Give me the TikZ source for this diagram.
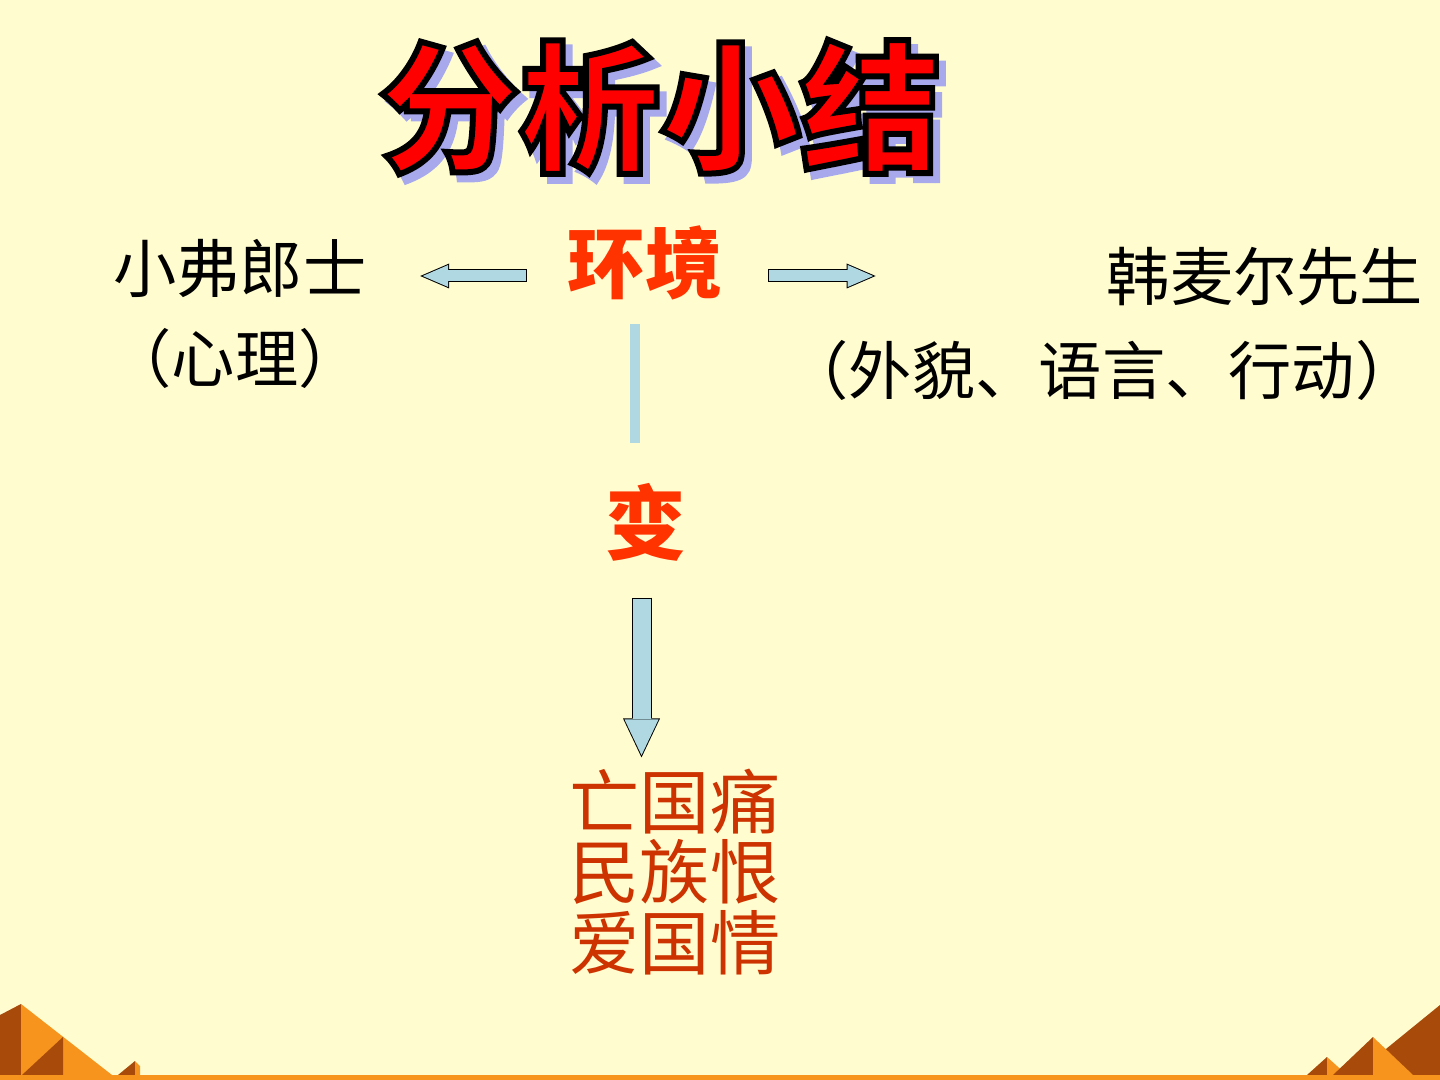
\documentclass[tikz,border=0pt]{standalone}
\usepackage{fontspec}
\setmainfont{Noto Sans CJK SC}
\usepackage{tikz}
\usetikzlibrary{arrows.meta}
\definecolor{paper}{RGB}{255,253,208}
\definecolor{envred}{RGB}{255,51,0}
\definecolor{feelred}{RGB}{204,51,0}
\definecolor{pale}{RGB}{176,216,226}
\definecolor{shade}{RGB}{168,168,236}
\definecolor{sand}{RGB}{247,148,29}
\definecolor{rust}{RGB}{168,74,10}
% outlined glyphs: fill in the text colour, stroke in black
\newcommand\ringtext[2]{\special{pdf:literal direct q 2 Tr 1.7 w #1 RG}#2\special{pdf:literal direct Q}}

\begin{document}
\begin{tikzpicture}[
    person/.style={font=\fontsize{18}{22}\selectfont, inner sep=0pt},
    keyword/.style={font=\fontsize{22}{26}\selectfont\bfseries, text=envred, inner sep=0pt},
    feeling/.style={font=\fontsize{20}{20}\selectfont, text=feelred, align=center, inner sep=0pt},
    headline/.style={font=\fontsize{40}{44}\selectfont\bfseries, inner sep=0pt},
    stem/.style={draw=pale, line width=0.10cm, shorten <=0.235cm, shorten >=0.39cm},
    sidearr/.style 2 args={draw=black, line width=0.13cm, shorten <=#1, shorten >=#2,
        -{Triangle[width=0.25cm, length=0.29cm, line width=0pt]},
        postaction={draw=pale, line width=0.11cm, shorten <=#1+0.01cm, shorten >=#2+0.025cm,
        -{Triangle[width=0.22cm, length=0.255cm, line width=0pt]}}},
    downarr/.style 2 args={draw=black, line width=0.20cm, shorten <=#1, shorten >=#2,
        -{Triangle[width=0.37cm, length=0.39cm, line width=0pt]},
        postaction={draw=pale, line width=0.18cm, shorten <=#1+0.01cm, shorten >=#2+0.023cm,
        -{Triangle[width=0.34cm, length=0.357cm, line width=0pt]}}}
]
% page
\fill[paper] (0,0) rectangle (14.4,-10.8);
\useasboundingbox (0,0) rectangle (14.4,-10.8);

% pyramids along the bottom edge
\fill[rust] (0,-10.15) -- (0.21,-10.04) -- (0.21,-10.75) -- (0,-10.75) -- cycle;
\fill[sand] (0.21,-10.04) -- (1.12,-10.75) -- (0.21,-10.75) -- cycle;
\fill[rust] (0.22,-10.75) -- (0.63,-10.37) -- (0.63,-10.75) -- cycle;
\fill[rust] (1.18,-10.75) -- (1.35,-10.61) -- (1.35,-10.75) -- cycle;
\fill[sand] (1.35,-10.61) -- (1.40,-10.66) -- (1.40,-10.75) -- (1.35,-10.75) -- cycle;
\fill[rust] (14.40,-10.05) -- (13.54,-10.75) -- (14.40,-10.75) -- cycle;
\fill[rust] (13.07,-10.75) -- (13.27,-10.57) -- (13.27,-10.75) -- cycle;
\fill[sand] (13.27,-10.57) -- (13.47,-10.75) -- (13.27,-10.75) -- cycle;
\fill[rust] (13.33,-10.75) -- (13.73,-10.37) -- (13.73,-10.75) -- cycle;
\fill[sand] (13.73,-10.37) -- (14.13,-10.75) -- (13.73,-10.75) -- cycle;
\fill[sand] (0,-10.75) rectangle (14.4,-10.8);

% title with shadow and outline
\coordinate (titlepos) at (6.60,-1.07);
\node[headline, text=shade, xshift=0.07cm, yshift=-0.07cm] (shadow) at (titlepos) {\ringtext{0.66 0.66 0.925}{分析小结}};
\node[headline, text=red] (title) at (titlepos) {\ringtext{0 0 0}{分析小结}};

% texts
\node[person] (frank) at (2.40,-2.68) {小弗郎士};
\node[person] (franknote) at (2.35,-3.58) {（心理）};
\node[keyword] (env) at (6.45,-2.63) {环境};
\node[person] (hamel) at (12.65,-2.77) {韩麦尔先生};
\node[person] (hamelnote) at (11.02,-3.70) {（外貌、语言、行动）};
\node[keyword, font=\fontsize{23}{27}\selectfont\bfseries] (change) at (6.46,-5.22) {变};
\node[feeling] (feel) at (6.75,-8.72) {亡国痛\\民族恨\\爱国情};

% connectors
\coordinate (envleft) at ([yshift=-0.13cm]env.west);
\coordinate (envright) at ([yshift=-0.13cm]env.east);
\draw[sidearr={0.40cm}{0.53cm}] (envleft) -- (envleft -| frank.east);
\draw[sidearr={0.45cm}{2.305cm}] (envright) -- (envright -| hamel.west);
\coordinate (stemtop) at ([xshift=-0.10cm]env.south);
\draw[stem] (stemtop) -- (stemtop |- change.north);
\coordinate (droptop) at ([xshift=-0.045cm]change.south);
\draw[downarr={0.36cm}{0.11cm}] (droptop) -- (droptop |- feel.north);
\end{tikzpicture}
\end{document}
